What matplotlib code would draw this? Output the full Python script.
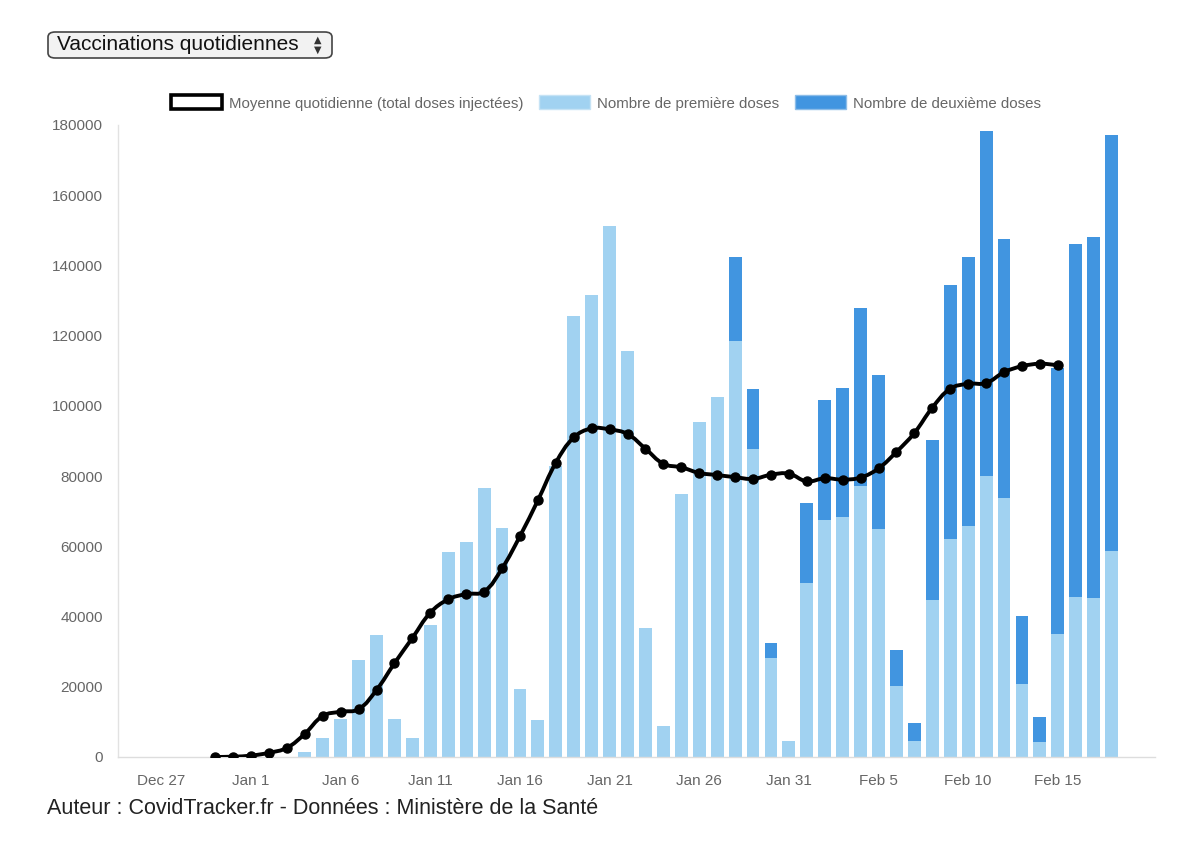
"""
Vaccinations quotidiennes en France - premières / deuxièmes doses et moyenne quotidienne
"""

import numpy as np
import matplotlib
matplotlib.use("Agg")
import matplotlib.pyplot as plt
from matplotlib.patches import Patch, FancyBboxPatch
from matplotlib.path import Path
from matplotlib.patches import PathPatch

plt.rcParams['font.family'] = ['Liberation Sans', 'DejaVu Sans']

# days counted from Jan 1 (Jan 1 = 0)
bar_days = list(range(3, 49))          # Jan 4 -> Feb 18
first_doses = [1400, 5300, 10700, 27600, 34800, 10700, 5300, 37700, 58400, 61200,
               76600, 65100, 19400, 10400, 82800, 125500, 131700, 151200, 115500, 36800,
               8900, 74800, 95400, 102500, 118400, 87600, 28100, 4600, 49600, 67600,
               68400, 77300, 64800, 20300, 4600, 44600, 62200, 65800, 79900, 73700,
               20900, 4400, 34900, 45600, 45300, 58600]
second_doses = [0, 0, 0, 0, 0, 0, 0, 0, 0, 0,
                0, 0, 0, 0, 0, 0, 0, 0, 0, 0,
                0, 0, 0, 0, 24100, 17100, 4300, 0, 22600, 34200,
                36600, 50700, 43900, 10100, 5000, 45600, 72100, 76700, 98500, 73900,
                19400, 7100, 75900, 100500, 102700, 118500]

avg_days = list(range(-2, 46))         # Dec 30 -> Feb 15
avg_total = [0, 100, 400, 1200, 2600, 6600, 11700, 12900, 13600, 19100,
             26700, 33900, 41100, 44900, 46400, 47100, 53700, 62900, 73100, 83800,
             91000, 93600, 93300, 92000, 87800, 83500, 82500, 80900, 80300, 79700,
             79200, 80400, 80700, 78500, 79400, 79000, 79600, 82200, 86900, 92300,
             99500, 104900, 106300, 106500, 109600, 111300, 112000, 111600]

tick_days = [-5, 0, 5, 10, 15, 20, 25, 30, 35, 40, 45]
tick_labels = ["Dec 27", "Jan 1", "Jan 6", "Jan 11", "Jan 16", "Jan 21",
               "Jan 26", "Jan 31", "Feb 5", "Feb 10", "Feb 15"]

light_blue = "#a1d2f1"
dark_blue = "#4195e0"
grey_txt = "#666666"

fig = plt.figure(figsize=(12, 8.52), dpi=100)
ax = fig.add_axes([118 / 1200, 1 - 757 / 852, (1155 - 118) / 1200, (757 - 125) / 852])

ax.bar(bar_days, first_doses, width=0.72, color=light_blue, zorder=2)
ax.bar(bar_days, second_doses, width=0.72, bottom=first_doses, color=dark_blue, zorder=2)

ax.set_xlim(-7.42, 50.42)
ax.set_ylim(0, 180000)


def smooth_path(xs, ys, tension=0.4):
    # Chart.js style spline, computed in pixel space
    pts = ax.transData.transform(np.column_stack([xs, ys]))
    n = len(pts)
    cps = []
    for i in range(n):
        prev = pts[max(i - 1, 0)]
        cur = pts[i]
        nxt = pts[min(i + 1, n - 1)]
        d01 = np.hypot(*(cur - prev))
        d12 = np.hypot(*(nxt - cur))
        tot = d01 + d12
        s01 = d01 / tot if tot else 0
        s12 = d12 / tot if tot else 0
        cps.append((cur - tension * s01 * (nxt - prev), cur + tension * s12 * (nxt - prev)))
    verts = [pts[0]]
    codes = [Path.MOVETO]
    for i in range(1, n):
        verts += [cps[i - 1][1], cps[i][0], pts[i]]
        codes += [Path.CURVE4] * 3
    verts = ax.transData.inverted().transform(np.array(verts))
    return Path(verts, codes)


ax.add_patch(PathPatch(smooth_path(avg_days, avg_total), facecolor="none",
                       edgecolor="black", linewidth=2.8, zorder=3, capstyle="round"))
ax.plot(avg_days, avg_total, linestyle="none", marker="o", markersize=6.5,
        color="black", zorder=4)

ax.set_xticks(tick_days)
ax.set_xticklabels(tick_labels)
ax.set_yticks(range(0, 180001, 20000))
ax.tick_params(axis="both", length=0, labelsize=11, colors=grey_txt)
ax.tick_params(axis="x", pad=12)
ax.tick_params(axis="y", pad=11)

for s in ["top", "right"]:
    ax.spines[s].set_visible(False)
ax.spines["left"].set_color("#e2e2e2")
ax.spines["bottom"].set_color("#dddddd")
ax.spines["left"].set_linewidth(1)
ax.spines["bottom"].set_linewidth(1)

handles = [Patch(facecolor="white", edgecolor="black", linewidth=2.6),
           Patch(facecolor=light_blue, edgecolor="#c6e3f5", linewidth=1),
           Patch(facecolor=dark_blue, edgecolor="#8dbde8", linewidth=1)]
labels = ["Moyenne quotidienne (total doses injectées)",
          "Nombre de première doses", "Nombre de deuxième doses"]
fig.legend(handles, labels, loc="center", bbox_to_anchor=(606 / 1200, 1 - 103 / 852),
           ncol=3, frameon=False, fontsize=10.8, labelcolor=grey_txt,
           handlelength=3.4, handleheight=1.05, handletextpad=0.45, columnspacing=1.05)

# dropdown box at the top
box = FancyBboxPatch((48 / 1200, 1 - 58 / 852), (332 - 48) / 1200, 26 / 852,
                     boxstyle="round,pad=0,rounding_size=0.006", transform=fig.transFigure,
                     facecolor="#f2f2f2", edgecolor="#444444", linewidth=1.2)
fig.patches.append(box)
fig.text(57 / 1200, 1 - 45 / 852, "Vaccinations quotidiennes", fontsize=15,
         color="#111111", va="center", ha="left")
fig.text(318 / 1200, 1 - 40 / 852, "▲", fontsize=7, color="#333333", ha="center",
         va="center", family="DejaVu Sans")
fig.text(318 / 1200, 1 - 50 / 852, "▼", fontsize=7, color="#333333", ha="center",
         va="center", family="DejaVu Sans")

fig.text(47 / 1200, 1 - 808 / 852, "Auteur : CovidTracker.fr - Données : Ministère de la Santé",
         fontsize=15.5, color="#222222", va="center", ha="left")

fig.savefig("out.png", dpi=100)
